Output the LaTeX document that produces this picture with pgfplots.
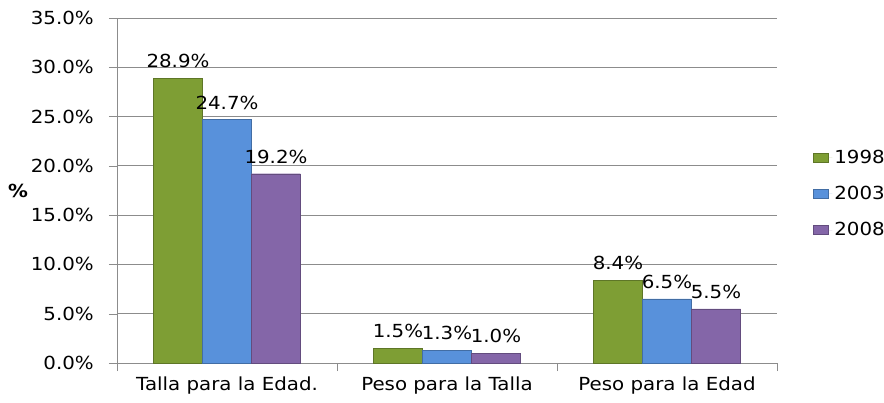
\documentclass[border=0pt]{standalone}
\usepackage{fontspec}
\setmainfont{DejaVu Sans}[FakeStretch=1.1]
\usepackage{pgfplots}
\pgfplotsset{compat=1.18}
\definecolor{g98}{HTML}{7E9E34}
\definecolor{b03}{HTML}{5891DB}
\definecolor{p08}{HTML}{8466A8}
\definecolor{gridc}{HTML}{8C8C8C}

\begin{document}
\fontsize{18}{21}\selectfont
\begin{tikzpicture}
\begin{axis}[
  at={(0,0)}, anchor=south west,
  scale only axis, width=660pt, height=345pt,
  /pgf/number format/assume math mode=true,
  ybar=0pt, bar width=49pt,
  xmin=-0.5, xmax=2.5, ymin=0, ymax=35,
  axis x line*=bottom, axis y line*=left,
  axis line style={-, draw=gridc},
  ytick={0,5,...,35},
  yticklabel={\pgfmathprintnumber[fixed,fixed zerofill,precision=1]{\tick}\%},
  yticklabel style={xshift=-9pt},
  ymajorgrids, grid style={draw=gridc, line width=0.8pt},
  tick align=outside, major tick length=8pt, minor tick length=8pt,
  ytick style={draw=gridc},
  xtick={0,1,2},
  xticklabels={Talla para la Edad., Peso para la Talla, Peso para la Edad},
  major x tick style={draw=none},
  minor xtick={-0.5,0.5,1.5,2.5},
  minor x tick style={draw=gridc},
  ylabel={\textbf{\%}},
  ylabel style={rotate=-90, at={(axis description cs:-0.15,0.5)}, anchor=center},
  nodes near coords={\pgfmathprintnumber[fixed,fixed zerofill,precision=1]{\pgfplotspointmeta}\%},
  every node near coord/.append style={yshift=4pt, text=black},
  legend style={at={(1.05,0.49)}, anchor=west, draw=none, fill=none,
    row sep=16pt, font=\fontsize{18}{21}\selectfont},
  legend cell align=left,
  legend image code/.code={\fill[#1] (0pt,-4.5pt) rectangle (15pt,4.5pt);
    \path[draw=none] (0pt,0pt) -- (19pt,0pt);},
]
\addplot[fill=g98, draw=g98!75!black] coordinates {(0,28.9) (1,1.5) (2,8.4)};
\addplot[fill=b03, draw=b03!75!black] coordinates {(0,24.7) (1,1.3) (2,6.5)};
\addplot[fill=p08, draw=p08!75!black] coordinates {(0,19.2) (1,1.0) (2,5.5)};
\legend{1998,2003,2008}
\end{axis}
\pgfresetboundingbox
\path[use as bounding box] (-117pt,-39pt) rectangle (767pt,363pt);
\end{tikzpicture}
\end{document}
